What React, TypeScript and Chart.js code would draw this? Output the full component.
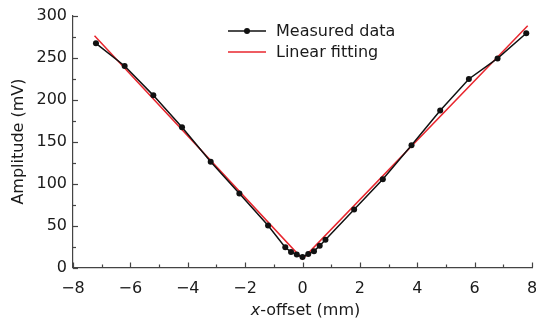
import React, { useEffect, useRef } from 'react';
import { Chart, registerables } from 'chart.js';

Chart.register(...registerables);

// ---- data ----
const measuredX = [-7.2, -6.2, -5.2, -4.2, -3.2, -2.2, -1.2, -0.6, -0.4, -0.2, 0, 0.2, 0.4, 0.6, 0.8, 1.8, 2.8, 3.8, 4.8, 5.8, 6.8, 7.8];
const measuredY = [267, 240, 205, 167, 126, 88, 50, 24, 18.5, 15.5, 12.5, 16, 19.5, 26, 33, 69, 105, 145.5, 187, 224.5, 249, 279];
const fitX = [-7.25, 0, 7.85];
const fitY = [276, 10, 288];
const xTickValues = [-8, -6, -4, -2, 0, 2, 4, 6, 8];
const yTickValues = [0, 50, 100, 150, 200, 250, 300];
const seriesLabels = ['Measured data', 'Linear fitting'];
const xTitleItalic = 'x';
const xTitleRest = '-offset (mm)';
const yTitle = 'Amplitude (mV)';

const FONT = '"DejaVu Sans", sans-serif';
const TEXT = '#1a1a1a';
const AXIS = '#444';
const BLACK = '#111';
const RED = '#e8262e';

const decorPlugin = {
  id: 'decor',
  afterDraw(chart: any) {
    const { ctx, chartArea, scales } = chart;
    const x = scales.x;
    const y = scales.y;
    ctx.save();
    ctx.strokeStyle = AXIS;
    ctx.lineWidth = 1.2;
    // inward ticks, x
    for (let v = -8; v <= 8; v += 1) {
      const px = Math.round(x.getPixelForValue(v)) + 0.5;
      const len = v % 2 === 0 ? 5 : 3;
      ctx.beginPath();
      ctx.moveTo(px, chartArea.bottom);
      ctx.lineTo(px, chartArea.bottom - len);
      ctx.stroke();
    }
    // inward ticks, y
    for (let v = 0; v <= 300; v += 25) {
      const py = Math.round(y.getPixelForValue(v)) + 0.5;
      const len = v % 50 === 0 ? 5 : 3;
      ctx.beginPath();
      ctx.moveTo(chartArea.left, py);
      ctx.lineTo(chartArea.left + len, py);
      ctx.stroke();
    }
    // x title with italic x
    ctx.fillStyle = TEXT;
    ctx.textBaseline = 'alphabetic';
    ctx.textAlign = 'left';
    ctx.font = `italic 16px ${FONT}`;
    const w1 = ctx.measureText(xTitleItalic).width;
    ctx.font = `16px ${FONT}`;
    const w2 = ctx.measureText(xTitleRest).width;
    const cx = (chartArea.left + chartArea.right) / 2 + 3;
    const start = cx - (w1 + w2) / 2;
    const base = 315;
    ctx.font = `italic 16px ${FONT}`;
    ctx.fillText(xTitleItalic, start, base);
    ctx.font = `16px ${FONT}`;
    ctx.fillText(xTitleRest, start + w1, base);

    // legend
    const ds = chart.data.datasets;
    const rows = [31, 52];
    ds.forEach((d: any, i: number) => {
      const ly = rows[i];
      ctx.strokeStyle = d.borderColor;
      ctx.lineWidth = 1.5;
      ctx.beginPath();
      ctx.moveTo(228, ly);
      ctx.lineTo(266, ly);
      ctx.stroke();
      if (d.pointRadius > 0) {
        ctx.fillStyle = d.pointBackgroundColor;
        ctx.beginPath();
        ctx.arc(247, ly, 3, 0, Math.PI * 2);
        ctx.fill();
      }
      ctx.fillStyle = TEXT;
      ctx.font = `16px ${FONT}`;
      ctx.textBaseline = 'middle';
      ctx.fillText(d.label, 276, ly + 1);
    });
    ctx.restore();
  },
};

export default function App() {
  const ref = useRef<HTMLCanvasElement | null>(null);

  useEffect(() => {
    document.body.style.margin = '0';
    if (!ref.current) return;
    const chart = new Chart(ref.current, {
      type: 'line',
      data: {
        datasets: [
          {
            label: seriesLabels[0],
            data: measuredX.map((v, i) => ({ x: v, y: measuredY[i] })),
            borderColor: BLACK,
            backgroundColor: BLACK,
            pointBackgroundColor: BLACK,
            pointBorderColor: BLACK,
            pointRadius: 3,
            pointBorderWidth: 0,
            borderWidth: 1.5,
            tension: 0,
            order: 1,
          },
          {
            label: seriesLabels[1],
            data: fitX.map((v, i) => ({ x: v, y: fitY[i] })),
            borderColor: RED,
            backgroundColor: RED,
            pointRadius: 0,
            borderWidth: 1.5,
            tension: 0,
            order: 2,
          },
        ],
      },
      options: {
        animation: false,
        responsive: false,
        maintainAspectRatio: false,
        layout: { padding: { top: 14, right: 3, left: 0, bottom: 0 } },
        plugins: {
          legend: { display: false },
          tooltip: { enabled: false },
        },
        scales: {
          x: {
            type: 'linear',
            min: -8,
            max: 8,
            afterBuildTicks: (s: any) => {
              s.ticks = xTickValues.map((v) => ({ value: v }));
            },
            afterFit: (s: any) => {
              s.height = 53.5;
              s.paddingLeft = 0;
              s.paddingRight = 0;
            },
            grid: { display: true, drawOnChartArea: false, drawTicks: false },
            border: { display: true, color: AXIS, width: 1.2 },
            ticks: {
              color: TEXT,
              font: { family: FONT, size: 16 },
              padding: 12,
              maxRotation: 0,
              autoSkip: false,
              callback: (v: any) => String(v).replace('-', '\u2212'),
            },
          },
          y: {
            type: 'linear',
            min: 0,
            max: 300,
            afterBuildTicks: (s: any) => {
              s.ticks = yTickValues.map((v) => ({ value: v }));
            },
            afterFit: (s: any) => {
              s.width = 73;
            },
            grid: { display: true, drawOnChartArea: false, drawTicks: false },
            border: { display: true, color: AXIS, width: 1.2 },
            title: {
              display: true,
              text: yTitle,
              color: TEXT,
              font: { family: FONT, size: 16 },
              padding: { top: 9, bottom: 0 },
            },
            ticks: {
              color: TEXT,
              font: { family: FONT, size: 16 },
              padding: 6,
              autoSkip: false,
            },
          },
        },
      },
      plugins: [decorPlugin],
    } as any);
    return () => chart.destroy();
  }, []);

  return (
    <div style={{ position: 'absolute', left: 0, top: 0, width: 536, height: 321, background: '#fff' }}>
      <canvas ref={ref} width={536} height={321} style={{ width: 536, height: 321, display: 'block' }} />
    </div>
  );
}
